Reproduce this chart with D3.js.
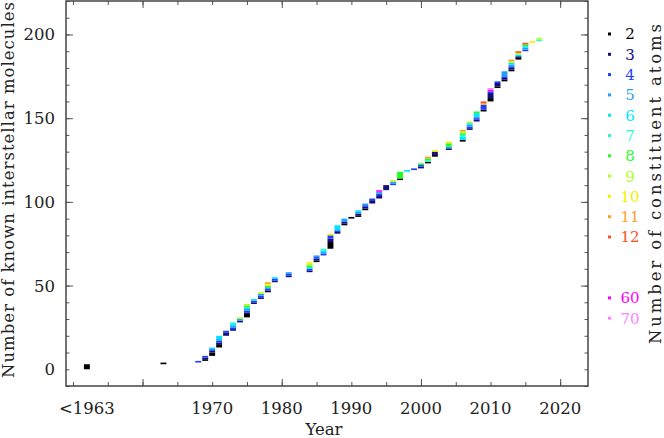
<!DOCTYPE html>
<html>
<head>
  <meta charset="utf-8">
  <title>Interstellar molecules</title>
  <script src="https://d3js.org/d3.v7.min.js"></script>
  <style>
    body { margin: 0; background: #fff; }
    text { font-family: "DejaVu Serif", serif; fill: #222; }
  </style>
</head>
<body>
<div id="chart"></div>
<script>
// atom counts shown in the legend, and their colours
const atomKeys = [2, 3, 4, 5, 6, 7, 8, 9, 10, 11, 12, 60, 70];
const atomColors = ["#000000", "#10107f", "#1f3fff", "#1f9fff", "#00e5ff", "#1fffcf",
                    "#1fff1f", "#afff1f", "#f2f200", "#ffa01f", "#ff501f", "#ff00ff", "#ff80ff"];

// year of detection (1952 stands for "<1963")
const years = [1952, 1963, 1968, 1969, 1970, 1971, 1972, 1973, 1974, 1975, 1976, 1977, 1978,
               1979, 1981, 1984, 1985, 1986, 1987, 1988, 1989, 1990, 1991, 1992, 1993, 1994,
               1995, 1996, 1997, 1998, 1999, 2000, 2001, 2002, 2004, 2006, 2007, 2008, 2009,
               2010, 2011, 2012, 2013, 2014, 2015, 2016, 2017];

// new molecules found that year, by number of atoms
const found = [
  {2: 3}, {2: 1}, {4: 1}, {2: 1, 3: 1, 4: 1},
  {2: 2, 3: 1, 4: 1, 6: 1}, {2: 2, 3: 1, 4: 1, 5: 1, 6: 2}, {3: 2, 4: 1},
  {3: 1, 4: 1, 5: 1, 6: 1, 7: 1}, {3: 1, 5: 1, 9: 1},
  {2: 2, 3: 1, 4: 1, 5: 1, 6: 1, 8: 1, 9: 1}, {3: 1, 4: 1, 6: 1},
  {3: 1, 4: 1, 5: 1, 9: 1}, {2: 1, 4: 1, 5: 1, 8: 1, 10: 1, 11: 1},
  {3: 1, 4: 1, 6: 1}, {3: 1, 4: 1, 5: 1}, {3: 1, 4: 1, 6: 1, 8: 1, 9: 1, 10: 1},
  {2: 1, 3: 1, 4: 1, 5: 1}, {4: 1, 5: 1, 6: 1, 7: 1}, {2: 4, 3: 2, 4: 2, 10: 1},
  {3: 1, 4: 1, 6: 3}, {2: 1, 3: 1, 5: 2}, {2: 1}, {2: 1, 3: 1, 5: 1, 6: 1},
  {2: 1, 3: 1, 4: 1, 5: 1}, {3: 2, 4: 1}, {3: 2, 4: 1, 5: 1, 60: 1},
  {3: 3}, {4: 1, 5: 1, 9: 1}, {2: 1, 8: 4}, {6: 1}, {4: 1}, {3: 1, 4: 1, 8: 1},
  {2: 1, 7: 1, 8: 1, 11: 1}, {2: 1, 3: 2, 10: 1}, {3: 1, 5: 1, 8: 2, 10: 1},
  {2: 1, 6: 2, 7: 1, 8: 1, 9: 1, 11: 1}, {3: 1, 4: 1, 5: 1, 6: 1, 9: 1},
  {3: 1, 4: 1, 5: 1, 6: 2, 8: 1}, {2: 1, 4: 3, 11: 1, 12: 1},
  {2: 2, 3: 3, 4: 1, 60: 1, 70: 1}, {2: 1, 3: 2, 4: 1}, {2: 1, 3: 1, 4: 1, 5: 3},
  {2: 1, 3: 1, 4: 1, 5: 1, 6: 1, 9: 1, 11: 1}, {2: 1, 3: 1, 6: 1, 9: 1, 12: 1},
  {4: 1, 5: 1, 6: 1, 8: 1, 12: 1}, {10: 1}, {7: 1, 9: 1}
];

// x tick labels
const labelYears = [1952, 1970, 1980, 1990, 2000, 2010, 2020];
const labelText = ["<1963", "1970", "1980", "1990", "2000", "2010", "2020"];

const W = 664, H = 438;
const pLeft = 66, pRight = 588, pTop = 1, pBottom = 386;

const svg = d3.select("#chart").append("svg")
    .attr("width", W)
    .attr("height", H);

const x = d3.scaleLinear().domain([1949, 2024]).range([pLeft, pRight]);
const y = d3.scaleLinear().domain([-10, 220]).range([pBottom, pTop]);
const color = d3.scaleOrdinal().domain(atomKeys).range(atomColors);

// stack each year's detections on top of the running total
const rows = years.map((yr, i) => Object.assign({year: yr}, found[i]));
const totals = rows.map(r => d3.sum(atomKeys, k => r[k] || 0));
const cum = d3.cumsum(totals);
const series = d3.stack()
    .keys(atomKeys)
    .value((d, k) => d[k] || 0)(rows);

const barW = x(1949.85) - x(1949);

svg.append("g").selectAll("g")
  .data(series)
  .join("g")
    .attr("fill", s => color(s.key))
  .selectAll("rect")
  .data(s => s.filter(d => d[1] > d[0]))
  .join("rect")
    .attr("x", d => x(d.data.year) - barW / 2)
    .attr("width", barW)
    .attr("y", d => {
      const i = years.indexOf(d.data.year);
      return y(cum[i] - totals[i] + d[1]);
    })
    .attr("height", d => y(0) - y(d[1] - d[0]));

// ticks, pointing inwards on all four sides
const minorX = d3.range(1950, 2025, 5);
const majorX = [1960, 1980, 2000, 2020];
const minorY = d3.range(-10, 221, 10);
const majorY = [50, 100, 150, 200];

function ticks(axis, pos, values, size) {
  const g = svg.append("g")
      .attr("transform", pos)
      .call(axis.tickValues(values).tickSize(size).tickFormat(""));
  g.select(".domain").remove();
  g.selectAll("line").attr("stroke", "#555");
}
ticks(d3.axisBottom(x), `translate(0,${pBottom})`, minorX, -4);
ticks(d3.axisBottom(x), `translate(0,${pBottom})`, majorX, -7);
ticks(d3.axisTop(x), `translate(0,${pTop})`, minorX, -4);
ticks(d3.axisTop(x), `translate(0,${pTop})`, majorX, -7);
ticks(d3.axisLeft(y), `translate(${pLeft},0)`, minorY, -3.5);
ticks(d3.axisLeft(y), `translate(${pLeft},0)`, majorY, -7);
ticks(d3.axisRight(y), `translate(${pRight},0)`, minorY, -3.5);
ticks(d3.axisRight(y), `translate(${pRight},0)`, majorY, -7);

svg.append("rect")
    .attr("x", pLeft).attr("y", pTop)
    .attr("width", pRight - pLeft).attr("height", pBottom - pTop)
    .attr("fill", "none")
    .attr("stroke", "#444")
    .attr("stroke-width", 1.5);

// tick labels
svg.append("g").selectAll("text")
  .data(labelYears)
  .join("text")
    .attr("x", d => x(d))
    .attr("y", 414)
    .attr("text-anchor", "middle")
    .attr("font-size", 16.5)
    .text((d, i) => labelText[i]);

svg.append("g").selectAll("text")
  .data([0, 50, 100, 150, 200])
  .join("text")
    .attr("x", 55)
    .attr("y", d => y(d))
    .attr("dy", "0.36em")
    .attr("text-anchor", "end")
    .attr("font-size", 16.5)
    .text(d => d);

// axis titles
svg.append("text")
    .attr("x", 324).attr("y", 435)
    .attr("text-anchor", "middle")
    .attr("font-size", 16.5)
    .text("Year");

svg.append("text")
    .attr("transform", "translate(14,190) rotate(-90)")
    .attr("text-anchor", "middle")
    .attr("font-size", 16.5)
    .attr("textLength", 376)
    .attr("lengthAdjust", "spacing")
    .text("Number of known interstellar molecules");

svg.append("text")
    .attr("transform", "translate(661,184) rotate(-90)")
    .attr("text-anchor", "middle")
    .attr("font-size", 16.5)
    .attr("textLength", 320)
    .attr("lengthAdjust", "spacing")
    .text("Number of constituent atoms");

// legend
const legend = svg.append("g").selectAll("g")
  .data(atomKeys)
  .join("g")
    .attr("transform", (d, i) => `translate(0,${34 + (i < 11 ? i : i + 2) * 20.3})`);

legend.append("rect")
    .attr("x", 608).attr("y", -1.5)
    .attr("width", 3).attr("height", 3)
    .attr("fill", d => color(d));

legend.append("text")
    .attr("x", 630)
    .attr("dy", "0.36em")
    .attr("text-anchor", "middle")
    .attr("font-size", 15)
    .style("fill", d => color(d))
    .text(d => d);
</script>
</body>
</html>
